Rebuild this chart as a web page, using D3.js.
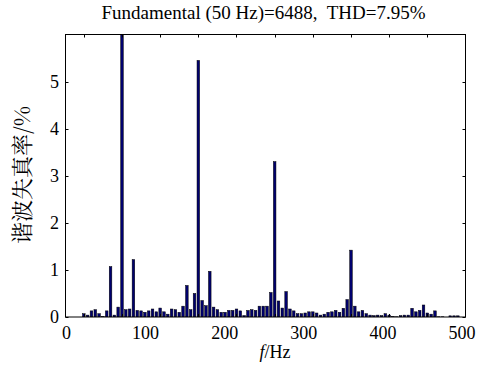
<!DOCTYPE html>
<html>
<head>
<meta charset="utf-8">
<script src="https://cdn.jsdelivr.net/npm/d3@7"></script>
<style>
    body { margin: 0; background: #fff; }
</style>
</head>
<body>
<svg id="chart"></svg>
<script>
const width = 480;
const height = 372;
const margin = ({top: 34.5, right: 14.5, bottom: 55, left: 65.5});
const serif = "Liberation Serif";

const binHz = 5;
// harmonic content (% of fundamental), one value per 5 Hz bin from 0 Hz
const distortion = [
    0.07, 0.04, 0.13, 0.155, 0.07, 0.01, 0.13, 1.07, 0.04, 0.21,
    100, 0.155, 0.17, 1.22, 0.14, 0.13, 0.10, 0.13, 0.17, 0.11,
    0.19, 0.11, 0.06, 0.17, 0.155, 0.10, 0.23, 0.67, 0.155, 0.50,
    5.45, 0.35, 0.24, 0.97, 0.21, 0.155, 0.10, 0.10, 0.14, 0.14,
    0.17, 0.13, 0.03, 0.14, 0.155, 0.14, 0.23, 0.23, 0.23, 0.52,
    3.30, 0.34, 0.19, 0.54, 0.17, 0.13, 0.07, 0.07, 0.085, 0.11,
    0.11, 0.085, 0.04, 0.06, 0.10, 0.11, 0.14, 0.10, 0.185, 0.37,
    1.42, 0.23, 0.11, 0.14, 0.07, 0.04, 0.03, 0.04, 0.03, 0.07,
    0.04, 0.01, 0.005, 0.03, 0.04, 0.04, 0.185, 0.11, 0.14, 0.255,
    0.085, 0.06, 0.13, 0.005, 0.005, 0, 0.025, 0.025, 0.025, 0
];
const freqs = distortion.map((v, i) => i * binHz);

const xTickLabels = [0, 100, 200, 300, 400, 500];
const yTickLabels = [0, 1, 2, 3, 4, 5];
const title = "Fundamental (50 Hz)=6488,\u00a0 THD=7.95%";

const svg = d3.select("#chart")
    .attr("width", width)
    .attr("height", height);

const innerRight = width - margin.right;
const innerBottom = 317;

const x = d3.scaleLinear().domain([-24, 500]).range([margin.left, innerRight]);
const xLabel = d3.scaleLinear().domain([0, 500]).range([66.5, 462]);
const y = d3.scaleLinear().domain([0, 6]).range([innerBottom, margin.top]);

svg.append("defs").append("clipPath")
    .attr("id", "plot-clip")
    .append("rect")
    .attr("x", margin.left)
    .attr("y", margin.top)
    .attr("width", innerRight - margin.left)
    .attr("height", innerBottom - margin.top);

const barW = (x(binHz) - x(0)) * 0.68;

svg.append("g")
    .attr("clip-path", "url(#plot-clip)")
    .selectAll("rect")
    .data(freqs.map((f, i) => ({f: f, v: distortion[i]})))
    .join("rect")
    .attr("x", d => x(d.f) - barW / 2)
    .attr("y", d => y(d.v))
    .attr("width", barW)
    .attr("height", d => innerBottom - y(d.v))
    .attr("fill", "#00006e")
    .attr("stroke", "#000")
    .attr("stroke-width", 0.5);

// frame
svg.append("rect")
    .attr("x", margin.left)
    .attr("y", margin.top)
    .attr("width", innerRight - margin.left)
    .attr("height", innerBottom - margin.top)
    .attr("fill", "none")
    .attr("stroke", "#000")
    .attr("stroke-width", 1);

const tickLen = 3;
const xTicks = d3.range(0, 500, 50);
const gTicks = svg.append("g").attr("stroke", "#000").attr("stroke-width", 1);

xTicks.forEach(t => {
    gTicks.append("line")
        .attr("x1", Math.round(x(t)) + 0.5).attr("x2", Math.round(x(t)) + 0.5)
        .attr("y1", margin.top).attr("y2", margin.top + tickLen);
    gTicks.append("line")
        .attr("x1", Math.round(x(t)) + 0.5).attr("x2", Math.round(x(t)) + 0.5)
        .attr("y1", innerBottom).attr("y2", innerBottom - tickLen);
});

yTickLabels.forEach(t => {
    gTicks.append("line")
        .attr("x1", margin.left).attr("x2", margin.left + tickLen)
        .attr("y1", Math.round(y(t)) + 0.5).attr("y2", Math.round(y(t)) + 0.5);
    gTicks.append("line")
        .attr("x1", innerRight).attr("x2", innerRight - tickLen)
        .attr("y1", Math.round(y(t)) + 0.5).attr("y2", Math.round(y(t)) + 0.5);
});

svg.append("g")
    .selectAll("text")
    .data(xTickLabels)
    .join("text")
    .attr("x", d => xLabel(d))
    .attr("y", 338.5)
    .attr("text-anchor", "middle")
    .attr("font-family", serif)
    .attr("font-size", 18)
    .text(d => d);

svg.append("g")
    .selectAll("text")
    .data(yTickLabels)
    .join("text")
    .attr("x", 59)
    .attr("y", d => y(d) + 6)
    .attr("text-anchor", "end")
    .attr("font-family", serif)
    .attr("font-size", 18)
    .text(d => d);

svg.append("text")
    .attr("x", 263.5)
    .attr("y", 19)
    .attr("text-anchor", "middle")
    .attr("font-family", serif)
    .attr("font-size", 19)
    .text(title);

const xTitle = svg.append("text")
    .attr("x", 275)
    .attr("y", 358)
    .attr("text-anchor", "middle")
    .attr("font-family", serif)
    .attr("font-size", 18);
xTitle.append("tspan").attr("font-style", "italic").text("f");
xTitle.append("tspan").text("/Hz");

svg.append("text")
    .attr("transform", "translate(30,175) rotate(-90)")
    .attr("text-anchor", "middle")
    .attr("font-family", "Noto Serif CJK SC")
    .attr("font-size", 22)
    .text("谐波失真率/%");
</script>
</body>
</html>
